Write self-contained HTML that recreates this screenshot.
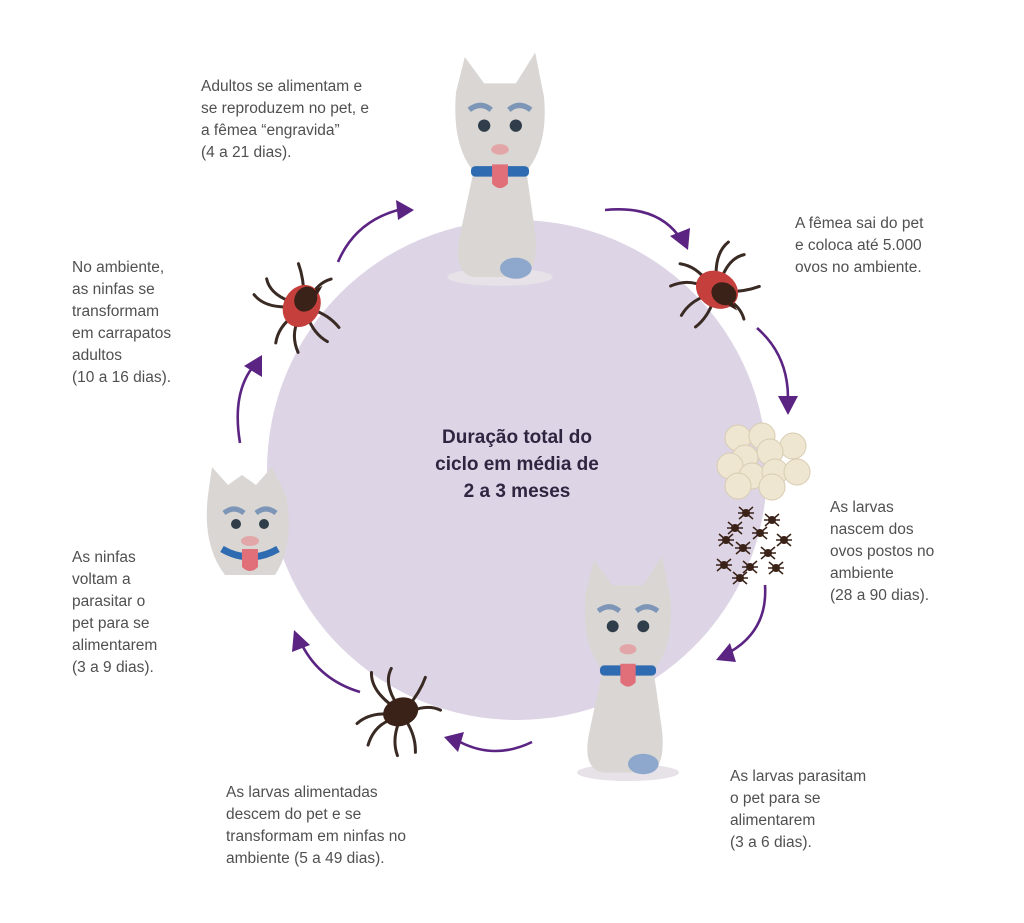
<!DOCTYPE html>
<html><head><meta charset="utf-8"><style>
html,body{margin:0;padding:0;background:#fff;}
svg{display:block}
.t{font-family:"Liberation Sans",sans-serif;font-size:15.5px;fill:#505050;}
.c{font-family:"Liberation Sans",sans-serif;font-size:19px;font-weight:bold;fill:#2f2540;}
.arr{fill:none;stroke:#5b2483;stroke-width:2.6;}
.hd{fill:#5b2483;}
.leg{stroke:#3a2a24;stroke-width:3;fill:none;stroke-linecap:round;}
.lg{stroke:#3a2218;stroke-width:1.5;fill:none;}
</style></head><body>
<svg width="1024" height="923" viewBox="0 0 1024 923" xmlns="http://www.w3.org/2000/svg">
<defs>
<g id="tick">
 <path class="leg" d="M-8,-10 Q-20,-30 -14,-45 M-2,-12 Q-5,-32 6,-42 M-12,0 Q-30,-8 -45,-2 M-12,6 Q-30,6 -42,22 M-6,12 Q-18,26 -18,42 M2,12 Q6,30 0,45 M8,0 Q25,-10 35,-22 M10,5 Q28,4 38,14"/>
 <ellipse cx="0" cy="2" rx="22" ry="18" fill="#c5403d"/>
 <ellipse cx="8" cy="2" rx="13" ry="11" fill="#3a2218"/>
 <path d="M18,4 L28,10 L18,10Z" fill="#3a2218"/>
</g>
<g id="btick">
 <path class="leg" d="M-8,-10 Q-20,-30 -14,-45 M-2,-12 Q-5,-32 6,-42 M-12,0 Q-30,-8 -45,-2 M-12,6 Q-30,6 -42,22 M-6,12 Q-18,26 -18,42 M2,12 Q6,30 0,45 M8,0 Q25,-10 35,-22 M10,5 Q28,4 38,14"/>
 <ellipse cx="0" cy="2" rx="18" ry="14" fill="#3a2218"/>
</g>
<g id="lv">
 <path class="lg" d="M-7,-6 L7,6 M-7,6 L7,-6 M-8,0 L8,0"/>
 <circle r="4" fill="#3a2218"/>
</g>
<g id="dog">
 <ellipse cx="0" cy="150" rx="60" ry="10" fill="#e6e2e8"/>
 <path d="M-50,-60 L-40,-100 L-18,-70 L18,-70 L40,-105 L50,-55 Q55,0 30,30 L40,100 Q45,150 20,150 L-30,150 Q-55,145 -45,100 L-30,30 Q-55,0 -50,-60Z" fill="#d9d6d3"/>
 <path d="M-35,-40 Q-22,-50 -10,-40" stroke="#7d96b8" stroke-width="6" fill="none"/>
 <path d="M10,-40 Q22,-50 35,-40" stroke="#7d96b8" stroke-width="6" fill="none"/>
 <circle cx="-18" cy="-22" r="7" fill="#2f3e4a"/><circle cx="18" cy="-22" r="7" fill="#2f3e4a"/>
 <ellipse cx="0" cy="5" rx="10" ry="6" fill="#e2a6a8"/>
 <rect x="-33" y="24" width="66" height="12" rx="5" fill="#2f6bb0"/>
 <path d="M-9,22 L9,22 L9,44 Q0,54 -9,44Z" fill="#e06f7a"/>
 <ellipse cx="18" cy="140" rx="18" ry="12" fill="#8ea7cc"/>
</g>
</defs>
<circle cx="517" cy="470" r="250" fill="#ddd4e6"/>
<use href="#dog" transform="translate(500,145) scale(0.88)"/>
<use href="#dog" transform="translate(628,645) scale(0.85)"/>
<g transform="translate(250,525)">
 <path d="M-42,-30 L-38,-58 L-22,-40 L-8,-50 L6,-40 L22,-58 L36,-30 Q45,20 25,50 L-25,50 Q-48,20 -42,-30Z" fill="#d9d6d3"/>
 <path d="M-26,-12 Q-16,-20 -6,-12 M6,-12 Q16,-20 26,-12" stroke="#7d96b8" stroke-width="5" fill="none"/>
 <circle cx="-14" cy="-1" r="5" fill="#2f3e4a"/><circle cx="14" cy="-1" r="5" fill="#2f3e4a"/>
 <ellipse cx="0" cy="16" rx="9" ry="5" fill="#e2a6a8"/>
 <path d="M-28,24 Q0,40 28,24" stroke="#2f6bb0" stroke-width="7" fill="none"/>
 <path d="M-8,24 L8,24 L8,42 Q0,50 -8,42Z" fill="#e06f7a"/>
</g>
<use href="#tick" transform="translate(718,288) rotate(30)"/>
<use href="#tick" transform="translate(300,305) rotate(-60)"/>
<use href="#btick" transform="translate(400,710) rotate(-20)"/>
<g fill="#efe6d2" stroke="#d8ccb0" stroke-width="1">
<circle cx="738" cy="438" r="13"/><circle cx="762" cy="436" r="13"/><circle cx="793" cy="446" r="13"/>
<circle cx="770" cy="452" r="13"/><circle cx="745" cy="458" r="13"/><circle cx="730" cy="466" r="13"/>
<circle cx="752" cy="476" r="13"/><circle cx="775" cy="472" r="13"/><circle cx="797" cy="472" r="13"/>
<circle cx="738" cy="486" r="13"/><circle cx="772" cy="487" r="13"/>
</g>
<use href="#lv" x="746" y="513"/><use href="#lv" x="772" y="520"/><use href="#lv" x="735" y="528"/><use href="#lv" x="760" y="533"/>
<use href="#lv" x="784" y="540"/><use href="#lv" x="743" y="548"/><use href="#lv" x="768" y="553"/><use href="#lv" x="724" y="565"/>
<use href="#lv" x="750" y="567"/><use href="#lv" x="776" y="568"/><use href="#lv" x="740" y="578"/><use href="#lv" x="726" y="540"/>
<path class="arr" d="M338,262 Q355,222 398,210"/><path class="hd" d="M414,210 L396,200 L398,220Z"/>
<path class="arr" d="M605,210 Q655,205 678,235"/><path class="hd" d="M688,250 L670,236 L690,228Z"/>
<path class="arr" d="M757,328 Q788,355 788,398"/><path class="hd" d="M788,415 L778,396 L798,396Z"/>
<path class="arr" d="M765,585 Q768,630 730,652"/><path class="hd" d="M716,660 L730,643 L736,662Z"/>
<path class="arr" d="M532,742 Q495,760 460,742"/><path class="hd" d="M444,737 L464,732 L458,752Z"/>
<path class="arr" d="M360,692 Q320,680 302,645"/><path class="hd" d="M294,630 L310,645 L292,652Z"/>
<path class="arr" d="M240,443 Q232,395 252,368"/><path class="hd" d="M262,355 L262,377 L244,366Z"/>
<text class="c" text-anchor="middle"><tspan x="517" y="443">Duração total do</tspan><tspan x="517" y="470">ciclo em média de</tspan><tspan x="517" y="497">2 a 3 meses</tspan></text>
<text class="t"><tspan x="201" y="91">Adultos se alimentam e</tspan><tspan x="201" y="113">se reproduzem no pet, e</tspan><tspan x="201" y="135">a fêmea “engravida”</tspan><tspan x="201" y="157">(4 a 21 dias).</tspan></text>
<text class="t"><tspan x="795" y="228">A fêmea sai do pet</tspan><tspan x="795" y="250">e coloca até 5.000</tspan><tspan x="795" y="272">ovos no ambiente.</tspan></text>
<text class="t"><tspan x="72" y="272">No ambiente,</tspan><tspan x="72" y="294">as ninfas se</tspan><tspan x="72" y="316">transformam</tspan><tspan x="72" y="338">em carrapatos</tspan><tspan x="72" y="360">adultos</tspan><tspan x="72" y="382">(10 a 16 dias).</tspan></text>
<text class="t"><tspan x="830" y="512">As larvas</tspan><tspan x="830" y="534">nascem dos</tspan><tspan x="830" y="556">ovos postos no</tspan><tspan x="830" y="578">ambiente</tspan><tspan x="830" y="600">(28 a 90 dias).</tspan></text>
<text class="t"><tspan x="72" y="562">As ninfas</tspan><tspan x="72" y="584">voltam a</tspan><tspan x="72" y="606">parasitar o</tspan><tspan x="72" y="628">pet para se</tspan><tspan x="72" y="650">alimentarem</tspan><tspan x="72" y="672">(3 a 9 dias).</tspan></text>
<text class="t"><tspan x="226" y="797">As larvas alimentadas</tspan><tspan x="226" y="819">descem do pet e se</tspan><tspan x="226" y="841">transformam em ninfas no</tspan><tspan x="226" y="863">ambiente (5 a 49 dias).</tspan></text>
<text class="t"><tspan x="730" y="781">As larvas parasitam</tspan><tspan x="730" y="803">o pet para se</tspan><tspan x="730" y="825">alimentarem</tspan><tspan x="730" y="847">(3 a 6 dias).</tspan></text>
</svg>
</body></html>
